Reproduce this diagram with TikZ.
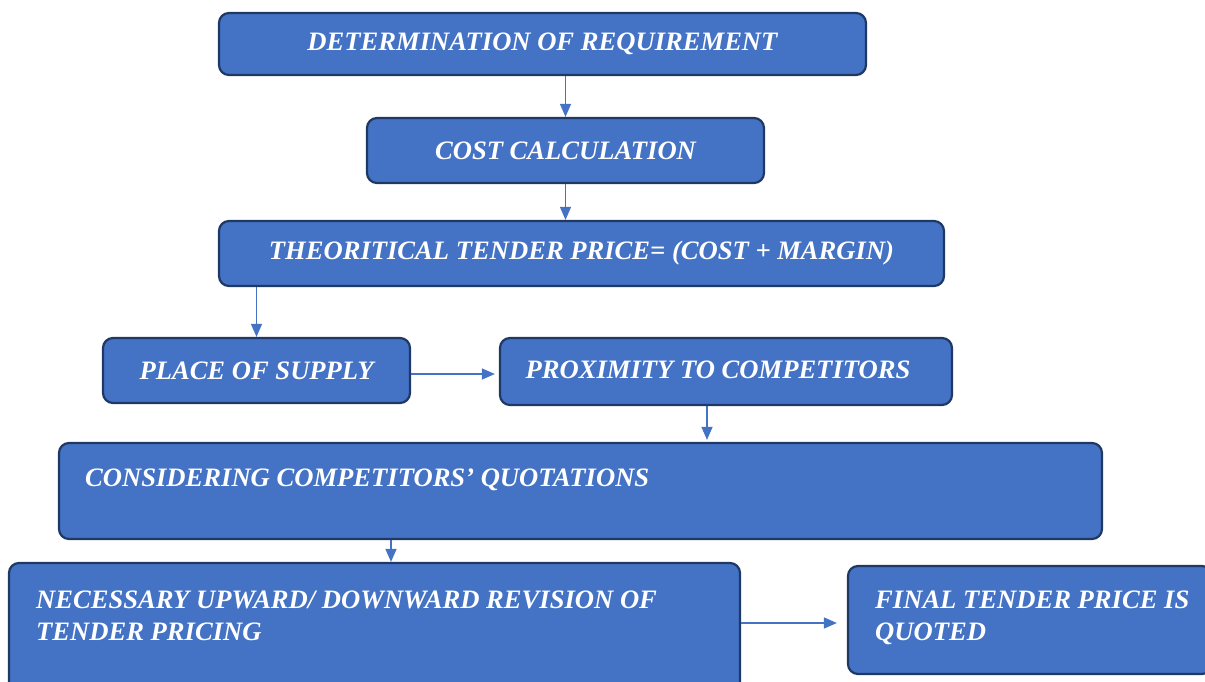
\documentclass[tikz,border=0pt]{standalone}
\usepackage{fontspec}
\setmainfont{Liberation Serif}
\usetikzlibrary{arrows.meta, positioning}
\definecolor{boxblue}{HTML}{4472C4}
\definecolor{boxedge}{HTML}{1F3864}

\begin{document}
\begin{tikzpicture}[x=1pt, y=-1pt,
    stage/.style={draw=boxedge, fill=boxblue, line width=2.2pt, rounded corners=10pt,
        text=white, font=\fontsize{26.6}{32}\selectfont\bfseries\itshape, inner sep=0pt},
    note/.style={text=white, font=\fontsize{26.6}{32}\selectfont\bfseries\itshape,
        align=left, anchor=west, inner sep=0pt},
    flow/.style={draw=boxblue, line width=1.3pt, -{Triangle[length=13pt,width=11pt]}}]
    \useasboundingbox (0,0) rectangle (1205,682);
    \clip (0,0) rectangle (1205,682);

    % Pricing stages
    \node[stage, minimum width=647pt, minimum height=62pt] (req) at (542.5,44) {DETERMINATION OF REQUIREMENT};
    \node[stage, minimum width=397pt, minimum height=65pt] (cost) at (565.5,150.5) {COST CALCULATION};
    \node[stage, minimum width=725pt, minimum height=65pt] (theo) at (581.5,253.5) {THEORITICAL TENDER PRICE= (COST + MARGIN)};
    \node[stage, minimum width=307pt, minimum height=65pt] (place) at (256.5,370.5) {PLACE OF SUPPLY};
    \node[stage, minimum width=452pt, minimum height=67pt] (prox) at (726,371.5) {};
    \node[note, anchor=center] (proxText) at (718,370) {PROXIMITY TO COMPETITORS};
    \node[stage, minimum width=1043pt, minimum height=96pt] (cons) at (580.5,491) {};
    \node[note] (consText) at (85,480) {CONSIDERING COMPETITORS’ QUOTATIONS};
    \node[stage, minimum width=731pt, minimum height=150pt] (rev) at (374.5,638) {};
    \node[note] (revText) at (36,616) {NECESSARY UPWARD/ DOWNWARD REVISION OF\\TENDER PRICING};
    \node[stage, minimum width=364pt, minimum height=108pt] (final) at (1030,620) {};
    \node[note] (finalText) at (875,618) {FINAL TENDER PRICE IS\\QUOTED};

    % Connectors
    \draw[flow] (req.south -| cost.north) -- (cost.north);
    \draw[flow] (cost.south) -- (cost.south |- theo.north);
    \draw[flow] (theo.south -| place.north) -- (place.north);
    \draw[flow, shorten >=4pt] ([yshift=-3.5]place.east) -- ([yshift=-3.5]place.east -| prox.west);
    \draw[flow, shorten >=2pt] ([xshift=-19]prox.south) -- ([xshift=-19]prox.south |- cons.north);
    \draw[flow] ([xshift=16.5]rev.north |- cons.south) -- ([xshift=16.5]rev.north);
    \draw[flow, shorten >=10pt] ([yshift=-3]rev.east |- final.west) -- ([yshift=-3]final.west);
\end{tikzpicture}
\end{document}
